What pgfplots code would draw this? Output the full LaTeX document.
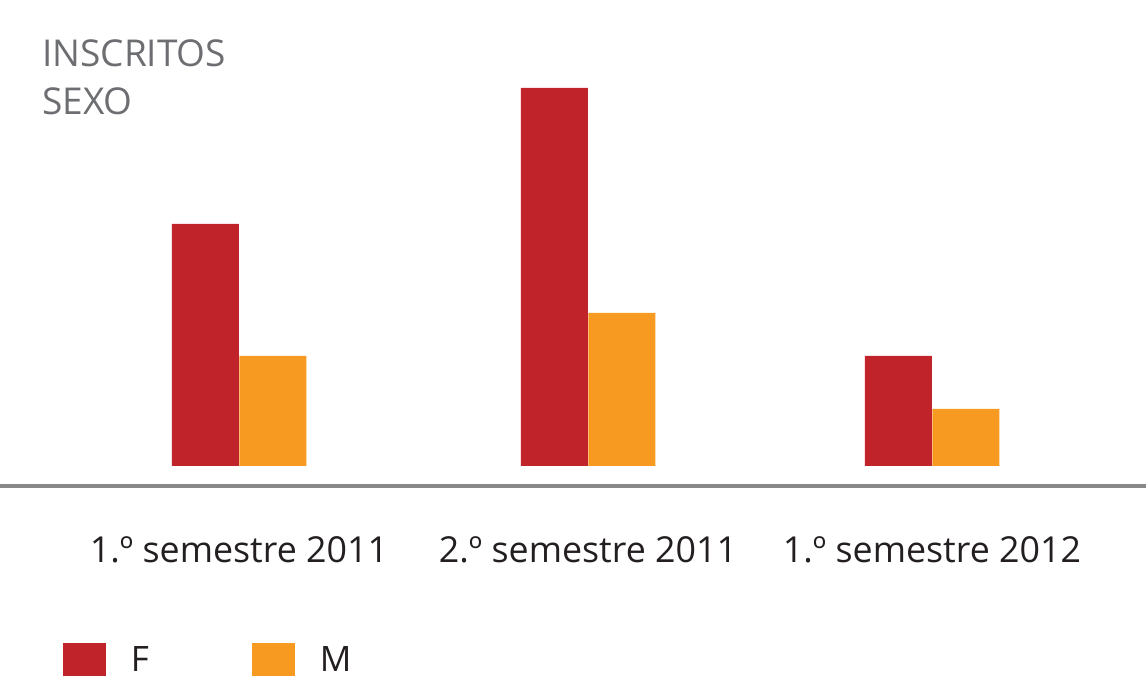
\documentclass[border=0pt]{standalone}
\usepackage{pgfplots}
\pgfplotsset{compat=1.18}
\usepackage{fontspec}
\setmainfont{Open Sans}
\definecolor{cF}{HTML}{C1232A}
\definecolor{cM}{HTML}{F79A22}
\definecolor{ctext}{HTML}{231F20}
\definecolor{ctitle}{HTML}{6D6E71}
\definecolor{cline}{HTML}{888888}
\begin{document}
\begin{tikzpicture}
\begin{axis}[
  scale only axis,
  width=1146pt, height=676pt,
  xmin=0, xmax=1146, ymin=-210, ymax=466,
  axis lines=none,
  clip=false,
  ybar, bar width=67,
  legend columns=2,
  legend image code/.code={\fill[#1] (0pt,-16.5pt) rectangle (43pt,16.5pt);},
  legend style={at={(axis cs:63,-193.5)}, anchor=west, draw=none, fill=none,
    inner sep=0pt, outer sep=0pt, column sep=0pt,
    /tikz/every odd column/.append style={column sep=25pt},
    nodes={inner sep=0pt, text depth=0pt, text=ctext, font=\fontsize{35}{40}\selectfont}},
]
\addplot[fill=cF, draw=none, bar shift=-33.75] coordinates {(239,242) (588,378) (932,110)};
\addlegendentry{\makebox[121pt][l]{F}}
\addplot[fill=cM, draw=none, bar shift=33.75] coordinates {(239,110) (588,153) (932,57)};
\addlegendentry{M}
\draw[cline, line width=4pt] (axis cs:0,-20) -- (axis cs:1146,-20);
\node[anchor=base west, inner sep=0pt, text=ctitle, font=\fontsize{37}{42}\selectfont] at (axis cs:42,399) {INSCRITOS};
\node[anchor=base west, inner sep=0pt, text=ctitle, font=\fontsize{37}{42}\selectfont] at (axis cs:42,351) {SEXO};
\foreach \xx/\lab in {239/1.º semestre 2011, 588/2.º semestre 2011, 932/1.º semestre 2012}{
  \edef\temp{\noexpand\node[anchor=base, inner sep=0pt, text=ctext, font=\noexpand\fontsize{35.8}{40}\noexpand\selectfont] at (axis cs:\xx,-97) {\lab};}
  \temp
}
\end{axis}
\pgfresetboundingbox
\path (current axis.south west) rectangle (current axis.north east);
\end{tikzpicture}
\end{document}
